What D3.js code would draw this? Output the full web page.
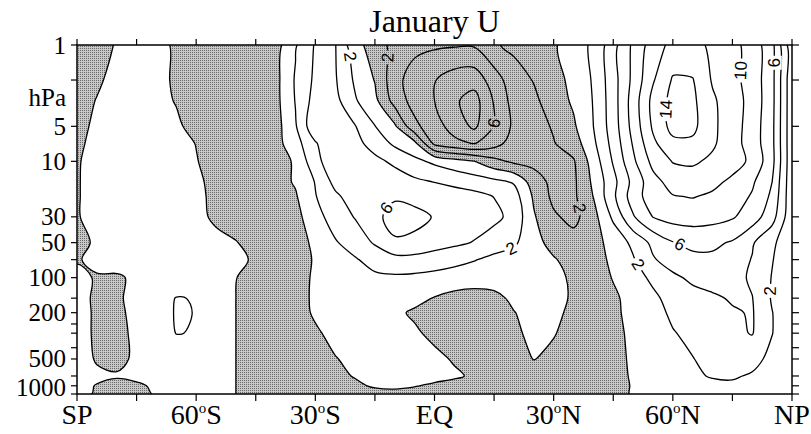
<!DOCTYPE html>
<html><head><meta charset="utf-8">
<script src="https://cdn.jsdelivr.net/npm/d3@7"></script>
<style>
body{margin:0;background:#fff}
svg{display:block}
</style>
</head><body>
<svg id="c" width="811" height="434"></svg>
<script>
// ---------- data ----------
const lats = d3.range(-90, 91, 5);           // 37 latitudes, SP..NP
const levels = [1,2,3,5,7,10,15,20,30,50,70,100,150,200,300,500,700,850,1000]; // hPa

// zonal wind U (m/s), one array per pressure level, lat -90..90 step 5
const u1    = [-0.8,-0.5,0.1,0.6,0.4,-0.2,-0.8,-1.0,-1.0,-0.8,-0.8,1.8,4.2,4.1,0.6,-0.8,-2.8,-3.4,-3.7,-3.8,-3.8,-2.2,-1.6,-1.1,-0.3,1.2,2.3,5.3,8.4,11.0,12.6,12.5,11.7,10.6,9.2,6.6,0.5];
const u2    = [-0.7,-0.2,0.4,0.6,0.4,-0.2,-0.8,-1.0,-1.0,-0.8,-0.6,2.2,4.4,4.2,1.7,-0.1,-3.3,-5.0,-5.9,-7.0,-7.2,-5.0,-2.8,-1.9,-0.8,0.6,2.2,5.2,8.5,11.8,14.2,14.1,11.8,10.6,9.2,6.6,0.5];
const u3    = [-0.5,0.05,0.5,0.7,0.5,-0.1,-0.8,-1.0,-1.1,-0.9,-0.6,2.1,4.8,4.6,2.2,0.5,-2.8,-4.8,-6.0,-7.7,-8.8,-5.8,-3.2,-2.4,-1.0,0.3,2.1,5.1,8.9,12.6,14.6,14.4,12.3,10.9,9.3,6.6,0.5];
const u5    = [-0.3,0.2,0.6,0.8,0.7,0.3,-0.6,-1.0,-1.1,-0.9,-0.8,1.8,5.6,5.0,4.1,2.05,0.3,-3.5,-5.2,-6.8,-8.4,-5.9,-3.6,-2.8,-1.8,-0.3,2.0,5.0,8.7,12.3,14.7,14.5,12.4,10.9,9.1,6.5,0.5];
const u7    = [-0.2,0.3,0.7,0.9,0.9,0.6,-0.05,-0.9,-1.1,-1.0,-0.7,1.2,3.8,5.8,4.6,3.2,1.6,0.5,-4.5,-5.5,-6.1,-4.8,-3.1,-2.6,-2.1,-1.0,1.6,4.7,8.2,11.6,13.5,13.6,12.3,10.8,9.1,6.5,0.5];
const u10   = [-0.1,0.4,0.8,1.0,1.0,0.8,0.1,-0.8,-1.1,-1.0,-0.7,0.2,3.4,5.3,5.4,4.5,3.6,2.5,1.6,0.8,0.05,-1.4,-2.4,-2.6,-2.5,-2.2,0.9,4.2,7.6,10.6,12.1,12.3,11.6,10.8,9.6,6.6,0.5];
const u15   = [-0.1,0.5,0.9,1.1,1.2,1.0,0.4,-0.6,-1.1,-1.0,-0.8,0.2,2.1,4.6,5.8,5.5,5.0,4.4,3.95,3.5,3.0,2.5,1.8,-1.0,-2.6,-2.4,0.4,3.4,6.6,9.3,10.8,11.0,10.5,9.6,8.3,6.0,0.5];
const u20   = [-0.1,0.5,0.9,1.2,1.3,1.1,0.5,-0.5,-1.0,-1.0,-0.8,-0.2,1.9,3.6,5.0,5.6,5.8,5.5,5.2,4.9,4.6,3.95,2.9,-0.3,-2.5,-2.4,0.05,3.6,7.0,9.1,9.9,10.1,9.7,9.0,7.8,5.6,0.5];
const u30   = [-0.1,0.5,1.0,1.3,1.5,1.3,0.6,-0.4,-1.0,-1.0,-0.9,-0.6,1.2,3.0,4.1,5.6,6.6,6.5,5.9,5.3,4.9,4.5,3.4,0.2,-1.7,-2.6,-0.7,2.4,5.8,8.05,8.8,8.9,8.7,8.2,7.0,4.8,0.5];
const u50   = [-0.2,0.1,0.9,1.4,1.6,1.5,1.1,0.6,0.1,-0.8,-1.0,-0.8,0.4,1.8,3.0,4.2,5.8,5.6,4.9,4.4,3.9,3.0,2.3,0.8,-0.8,-1.2,-0.6,0.6,2.5,4.5,5.9,6.5,6.4,5.8,4.2,2.4,0.5];
const u70   = [-0.1,0.3,1.0,1.4,1.6,1.5,1.3,0.9,0.5,-0.3,-0.9,-0.9,0.2,1.0,1.8,2.8,3.3,3.3,3.0,2.6,2.1,1.5,1.2,0.8,0.2,-0.9,-0.8,0.4,1.8,3.8,4.9,5.5,5.6,5.0,3.9,2.1,0.5];
const u100  = [0.3,-0.1,-0.3,0.4,1.0,1.3,1.3,1.0,0.05,-0.8,-1.0,-0.8,0.3,0.9,1.3,1.6,1.7,1.6,1.4,1.1,0.8,0.7,0.7,0.6,0.5,-0.3,-0.9,0.1,1.2,2.4,3.6,4.4,4.8,4.7,3.7,1.9,0.5];
const u150  = [0.4,-0.2,-0.3,0.6,1.5,2.04,1.96,1.2,0.0,-0.8,-1.0,-0.9,0.4,0.9,1.1,1.2,1.0,0.6,-0.1,-0.6,-0.7,-0.4,0.3,0.6,0.5,-0.2,-0.9,-0.3,0.6,1.6,2.7,3.3,3.7,4.2,4.05,1.8,0.5];
const u200  = [0.5,-0.2,-0.4,0.5,1.5,2.08,1.98,1.2,0.0,-0.8,-1.0,-0.9,0.3,0.8,0.9,0.8,0.4,-0.3,-0.8,-1.0,-0.9,-0.6,-0.05,0.5,0.5,-0.5,-1.0,-0.4,0.6,1.4,2.3,2.8,3.2,3.8,4.15,2.05,0.5];
const u300  = [0.5,-0.2,-0.4,0.3,1.3,2.03,1.95,1.1,0.0,-0.8,-1.0,-0.9,-0.3,0.6,0.9,0.9,0.7,0.3,-0.5,-0.9,-1.0,-0.8,-0.3,0.4,0.1,-0.6,-1.0,-0.5,0.4,1.2,1.9,2.4,2.8,3.6,4.1,2.05,0.5];
const u500  = [0.5,-0.1,-0.3,0.2,0.9,1.2,1.2,0.8,0.0,-0.8,-1.0,-0.9,-0.6,-0.1,0.5,0.9,1.0,0.8,0.5,-0.2,-0.8,-1.0,-0.7,0.05,-0.4,-0.8,-1.0,-0.6,0.3,1.0,1.6,1.95,2.5,2.8,2.6,1.5,0.5];
const u700  = [0.4,0.2,0.1,0.3,0.6,0.8,0.8,0.5,0.0,-0.7,-1.0,-1.0,-0.8,-0.4,0.1,0.6,0.8,0.8,0.6,0.3,-0.3,-0.8,-1.0,-0.9,-0.9,-0.9,-0.9,-0.6,0.2,0.9,1.4,1.8,2.1,2.2,1.8,1.3,0.5];
const u850  = [0.3,-0.05,-0.3,-0.2,0.2,0.5,0.6,0.4,0.0,-0.7,-1.0,-1.0,-0.9,-0.6,-0.3,0.2,0.4,0.1,-0.3,-0.7,-0.9,-1.0,-1.0,-1.0,-0.9,-0.9,-0.8,-0.5,0.1,0.7,1.2,1.5,1.7,1.7,1.4,1.1,0.5];
const u1000 = [0.3,-0.1,-0.4,-0.3,0.1,0.4,0.5,0.3,0.0,-0.6,-0.9,-1.0,-1.0,-0.9,-0.8,-0.6,-0.6,-0.7,-0.8,-0.9,-1.0,-1.0,-1.0,-1.0,-0.9,-0.8,-0.6,-0.4,0.1,0.6,1.0,1.3,1.4,1.3,1.1,0.8,0.5];
const rows = [u1,u2,u3,u5,u7,u10,u15,u20,u30,u50,u70,u100,u150,u200,u300,u500,u700,u850,u1000];

const contourLevels = [-8,-6,-4,-2,0,2,4,6,8,10,12,14];
const xTicks = d3.range(-90, 91, 15);
const xLabelVals = [-90,-60,-30,0,30,60,90];
const yTicks = [1,2,5,10,30,50,70,100,150,200,250,300,400,500,700,850,1000];
const yLabelVals = [1,5,10,30,50,100,200,500,1000];

// contour labels: level, approximate lat / pressure
const labelLevels = [2,-2,-6,6,2,-2,14,10,6,6,2,2];
const labelLats   = [-21.5,-11.0,16.0,-12.5,19.8,37.6,56.3,78.2,87.5,61.8,51.0,82.7];
const labelPs     = [1.25,1.3,4.7,25,63,24.7,3.5,1.64,1.43,52,78,128];

const SERIF = 'Liberation Serif';
const SANS = 'Liberation Sans';

// ---------- scales ----------
const L = 77, R = 792, T = 45, B = 394;
const X = d3.scaleLinear().domain([-90, 90]).range([L, R]);
const Y = d3.scaleLog().domain([1, 1000]).range([T, B]);

const svg = d3.select('#c');
const defs = svg.append('defs');
const pat = defs.append('pattern').attr('id','stip').attr('width',2).attr('height',2)
  .attr('patternUnits','userSpaceOnUse');
pat.append('rect').attr('width',2).attr('height',2).attr('fill','#c8c8c8').attr('shape-rendering','crispEdges');
pat.append('rect').attr('width',1).attr('height',1).attr('fill','#6a6a6a').attr('shape-rendering','crispEdges');
defs.append('clipPath').attr('id','plotclip').append('rect')
  .attr('x',L).attr('y',T).attr('width',R-L).attr('height',B-T);

// ---------- contours ----------
const nx = lats.length, ny = levels.length;
const values = [];
rows.forEach(r => r.forEach(v => values.push(v)));
const cs = d3.contours().size([nx, ny]).thresholds(contourLevels)(values);
const logL = levels.map(Math.log10);
function toLat(cx){ return lats[0] + 5 * (cx - 0.5); }
function toLogP(cy){
  const s = cy - 0.5;
  let k = Math.max(0, Math.min(ny - 2, Math.floor(s)));
  const t = s - k;
  return logL[k] + t * (logL[k+1] - logL[k]);
}
const tr = ([cx, cy]) => [X(toLat(cx)), Y(Math.pow(10, toLogP(cy)))];
const line = d3.line().curve(d3.curveCatmullRomClosed.alpha(0.5));
function ringsOf(c){
  const out = [];
  c.coordinates.forEach(poly => poly.forEach(ring => out.push(ring.slice(0, -1).map(tr))));
  return out;
}
const byLevel = {};
cs.forEach(c => { byLevel[c.value] = ringsOf(c); });
const pathOf = v => byLevel[v].map(r => line(r)).join('');

const plot = svg.append('g').attr('clip-path','url(#plotclip)');
plot.append('rect').attr('x',L).attr('y',T).attr('width',R-L).attr('height',B-T).attr('fill','url(#stip)');
plot.append('path').attr('d', pathOf(0)).attr('fill','#fff').attr('fill-rule','evenodd');

// labels: snap to nearest point of the smoothed contour, orient along it
const tmp = svg.append('g').attr('visibility','hidden');
const labels = labelLevels.map((lv, i) => {
  const tx = X(labelLats[i]), ty = Y(labelPs[i]);
  let best = null, bd = Infinity;
  byLevel[lv].forEach(r => {
    const node = tmp.append('path').attr('d', line(r)).node();
    const len = node.getTotalLength();
    for (let s = 0; s <= len; s += 1.5) {
      const p = node.getPointAtLength(s);
      if (p.x < L+4 || p.x > R-4 || p.y < T+5 || p.y > B-4) continue;
      const d = (p.x-tx)**2 + (p.y-ty)**2;
      if (d < bd) { bd = d; best = {node, s, len, x: p.x, y: p.y}; }
    }
  });
  if (!best) return {x: tx, y: ty, a: 0, t: String(Math.abs(lv))};
  const s0 = (best.s - 6 + best.len) % best.len, s1 = (best.s + 6) % best.len;
  const p0 = best.node.getPointAtLength(s0), p1 = best.node.getPointAtLength(s1);
  let a = Math.atan2(p1.y - p0.y, p1.x - p0.x) * 180 / Math.PI;
  while (a > 90) a -= 180;
  while (a <= -90) a += 180;
  return {x: best.x, y: best.y, a, t: String(Math.abs(lv))};
});
tmp.remove();

const mask = defs.append('mask').attr('id','lblmask').attr('maskUnits','userSpaceOnUse')
  .attr('x',0).attr('y',0).attr('width',811).attr('height',434);
mask.append('rect').attr('width',811).attr('height',434).attr('fill','#fff');
labels.forEach(l => {
  const w = 10 * l.t.length + 4;
  mask.append('rect').attr('x',-w/2).attr('y',-7.5).attr('width',w).attr('height',15)
    .attr('fill','#000').attr('transform',`translate(${l.x},${l.y}) rotate(${l.a})`);
});

const lines = plot.append('g').attr('mask','url(#lblmask)');
lines.selectAll('path.c').data(contourLevels).join('path').attr('class','c')
  .attr('d', v => pathOf(v)).attr('fill','none').attr('stroke','#000').attr('stroke-width',1.3)
  .attr('stroke-linejoin','round');

plot.append('g').selectAll('text').data(labels).join('text')
  .attr('transform', l => `translate(${l.x},${l.y}) rotate(${l.a})`)
  .attr('text-anchor','middle').attr('dominant-baseline','central')
  .attr('font-family', SANS).attr('font-size',17).attr('fill','#000')
  .text(l => l.t);

// ---------- axes ----------
const ax = svg.append('g').attr('stroke','#000').attr('fill','none');
ax.append('rect').attr('x',L).attr('y',T).attr('width',R-L).attr('height',B-T).attr('stroke-width',1.5);
xTicks.forEach(v => {
  ax.append('line').attr('x1',X(v)).attr('x2',X(v)).attr('y1',B).attr('y2',B+7).attr('stroke-width',1.2);
  ax.append('line').attr('x1',X(v)).attr('x2',X(v)).attr('y1',T).attr('y2',T-6).attr('stroke-width',1.2);
});
yTicks.forEach(v => {
  ax.append('line').attr('x1',L).attr('x2',L-6).attr('y1',Y(v)).attr('y2',Y(v)).attr('stroke-width',1.2);
  ax.append('line').attr('x1',R).attr('x2',R+7).attr('y1',Y(v)).attr('y2',Y(v)).attr('stroke-width',1.2);
});

xLabelVals.forEach(v => {
  const t = svg.append('text').attr('x',X(v)).attr('y',424).attr('text-anchor','middle')
    .attr('font-family', SERIF).attr('font-size',28).attr('fill','#000');
  if (v === -90) t.text('SP');
  else if (v === 90) t.text('NP');
  else if (v === 0) t.text('EQ');
  else {
    t.append('tspan').text(String(Math.abs(v)));
    t.append('tspan').attr('font-size',15).attr('dy',-11).text('o');
    t.append('tspan').attr('dy',11).text(v < 0 ? 'S' : 'N');
  }
});
yLabelVals.forEach(v => {
  svg.append('text').attr('x',66).attr('y',Y(v) + (v === 1000 ? -7 : 0))
    .attr('text-anchor','end').attr('dominant-baseline','central')
    .attr('font-family', SERIF).attr('font-size',25).attr('fill','#000').text(String(v));
});
svg.append('text').attr('x',66).attr('y',Y(2.8)).attr('text-anchor','end')
  .attr('dominant-baseline','central').attr('font-family', SERIF).attr('font-size',25).attr('fill','#000').text('hPa');
svg.append('text').attr('x',(L+R)/2).attr('y',32).attr('text-anchor','middle')
  .attr('font-family', SERIF).attr('font-size',32).attr('fill','#000').text('January U');
</script>
</body></html>
